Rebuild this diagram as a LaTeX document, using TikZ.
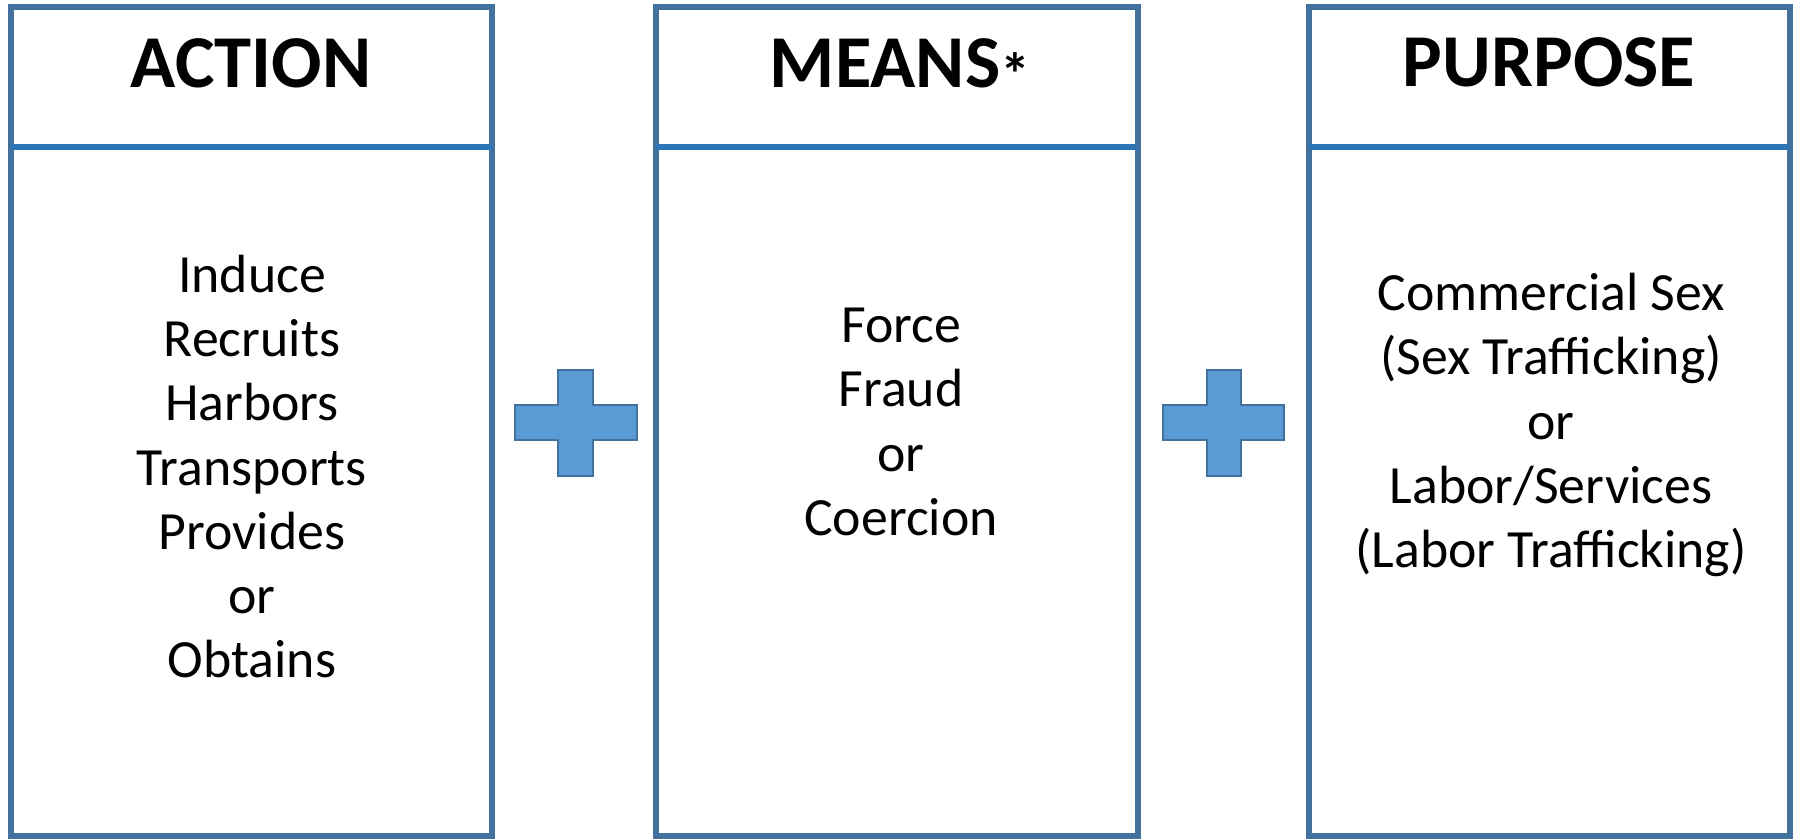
\documentclass[tikz,border=0pt]{standalone}
\usepackage{fontspec}
\setmainfont{Carlito}
\definecolor{boxblue}{HTML}{41719C}
\definecolor{divblue}{HTML}{2E75B6}
\definecolor{plusfill}{HTML}{5B9BD5}
\begin{document}
\begin{tikzpicture}[x=0.5pt,y=-0.5pt,
  panel/.style={draw=boxblue,line width=3pt},
  divider/.style={draw=divblue,line width=3pt},
  plussign/.style={fill=plusfill,draw=boxblue,line width=1pt,line join=miter},
  head/.style={anchor=base,inner sep=0pt,font=\fontsize{37.3}{44}\selectfont\bfseries},
  body/.style={anchor=base,inner sep=0pt,font=\fontsize{26.9}{32}\selectfont}]
\useasboundingbox (0,0) rectangle (1793,839);
% panels
\draw[panel] (11,7) rectangle (492,836);
\draw[panel] (656,7) rectangle (1138,836);
\draw[panel] (1309,7) rectangle (1790,836);
\draw[divider] (11,147) -- (492,147);
\draw[divider] (656,147) -- (1138,147);
\draw[divider] (1309,147) -- (1790,147);
% headers
\node[head] (hA) at (251,88) {ACTION};
\node[head] (hM) at (900,88) {MEANS\raisebox{-4pt}{\fontsize{30}{34}\selectfont *}};
\node[head] (hP) at (1549,87) {PURPOSE};
% body texts
\foreach \t [count=\i] in {Induce,Recruits,Harbors,Transports,Provides,or,Obtains}
  \node[body] (a\i) at (252,{293+64*(\i-1)}) {\t};
\foreach \t [count=\i] in {Force,Fraud,or,Coercion}
  \node[body] (m\i) at (901,{343+64*(\i-1)}) {\t};
\foreach \t [count=\i] in {Commercial Sex,(Sex Trafficking),or,Labor/Services,(Labor Trafficking)}
  \node[body] (p\i) at (1551,{311+64*(\i-1)}) {\t};
% plus signs
\draw[plussign] (558,370) -- (593,370) -- (593,405) -- (637,405) -- (637,440) -- (593,440)
  -- (593,476) -- (558,476) -- (558,440) -- (515,440) -- (515,405) -- (558,405) -- cycle;
\draw[plussign] (1207,370) -- (1241,370) -- (1241,405) -- (1284,405) -- (1284,440) -- (1241,440)
  -- (1241,476) -- (1207,476) -- (1207,440) -- (1163,440) -- (1163,405) -- (1207,405) -- cycle;
\end{tikzpicture}
\end{document}
